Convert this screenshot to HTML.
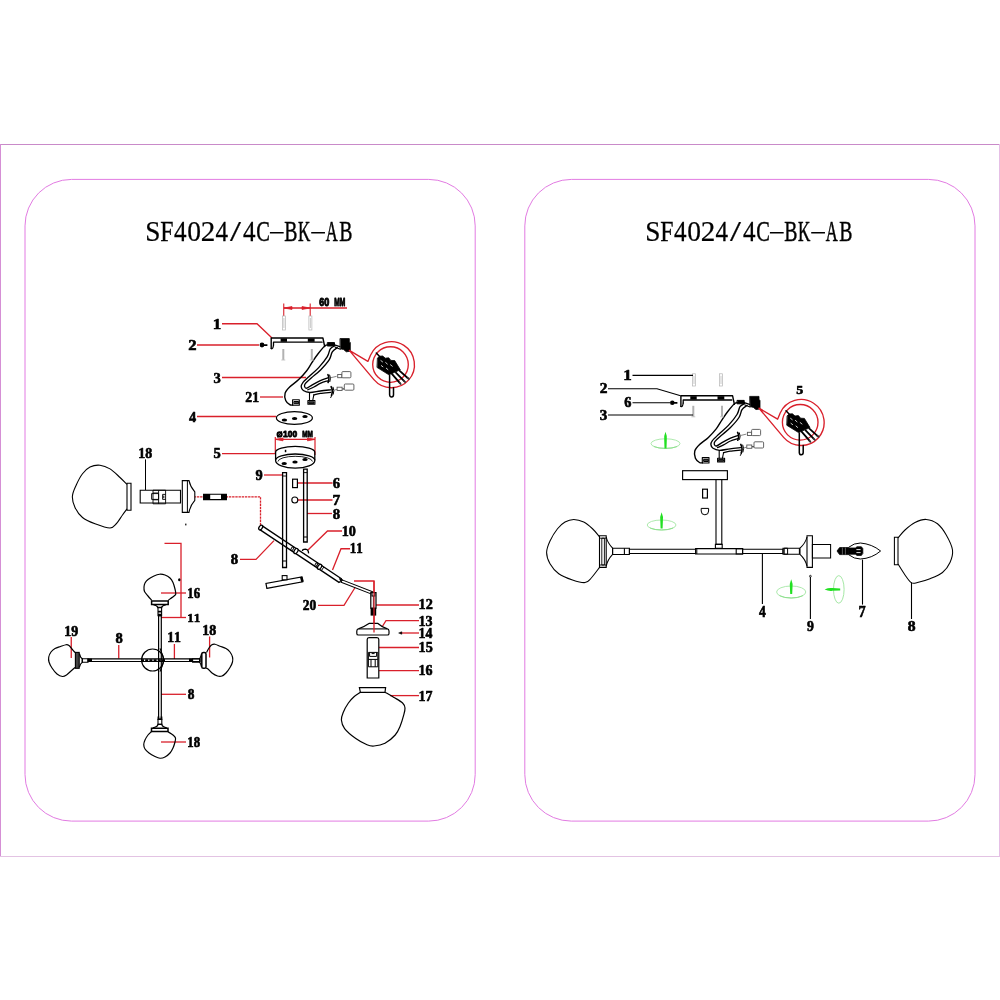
<!DOCTYPE html>
<html><head><meta charset="utf-8"><title>SF4024/4C-BK-AB</title>
<style>
html,body{margin:0;padding:0;background:#fff;}
body{width:1000px;height:1000px;overflow:hidden;font-family:"Liberation Sans",sans-serif;}
svg{display:block}
.t{font-family:"Liberation Serif",serif;fill:#000;stroke:#000;}
text{font-kerning:none;}
.n{font-family:"Liberation Serif",serif;font-weight:bold;fill:#000;stroke:#000;stroke-width:0.6px;stroke-linejoin:round;}
.d{font-family:"Liberation Sans",sans-serif;font-weight:bold;fill:#000;stroke:#000;stroke-width:0.9px;stroke-linejoin:round;}
</style></head><body>
<svg width="1000" height="1000" viewBox="0 0 1000 1000">
<rect width="1000" height="1000" fill="#fff"/>
<g fill="none" stroke-width="1">
<path d="M0 144.5H1000" stroke="#c98ac9"/>
<path d="M0.5 144V857" stroke="#d58fd5"/>
<path d="M0 856.5H1000" stroke="#e3c3e3"/>
<path d="M999.5 144V857" stroke="#e6bfe6"/>
<rect x="25" y="179.4" width="450.2" height="641.7" rx="46.5" ry="46.5" stroke="#e27be2"/>
<rect x="524.8" y="179.4" width="450.2" height="641.7" rx="46.5" ry="46.5" stroke="#e27be2"/>
</g>
<polyline points="222.00,323.75 257.00,323.75 272.00,338.00" fill="none" stroke="#d9202b" stroke-width="1.3" />
<polyline points="197.00,345.00 259.00,345.00" fill="none" stroke="#d9202b" stroke-width="1.3" />
<polyline points="222.00,377.50 306.00,377.50" fill="none" stroke="#d9202b" stroke-width="1.3" />
<polyline points="260.00,397.00 283.00,397.00" fill="none" stroke="#d9202b" stroke-width="1.3" />
<polyline points="197.00,416.50 276.00,416.50" fill="none" stroke="#d9202b" stroke-width="1.3" />
<polyline points="222.00,453.60 275.50,453.60" fill="none" stroke="#d9202b" stroke-width="1.3" />
<polyline points="264.00,475.00 282.50,475.00" fill="none" stroke="#d9202b" stroke-width="1.3" />
<polyline points="297.50,483.00 332.50,483.00" fill="none" stroke="#d9202b" stroke-width="1.3" />
<polyline points="298.00,500.00 332.50,500.00" fill="none" stroke="#d9202b" stroke-width="1.3" />
<polyline points="307.00,513.50 332.00,513.50" fill="none" stroke="#d9202b" stroke-width="1.3" />
<polyline points="308.00,550.00 327.50,531.00 342.00,531.00" fill="none" stroke="#d9202b" stroke-width="1.3" />
<polyline points="332.50,570.00 341.00,548.75 350.00,548.75" fill="none" stroke="#d9202b" stroke-width="1.3" />
<polyline points="240.00,559.40 256.00,559.40 274.00,540.60" fill="none" stroke="#d9202b" stroke-width="1.3" />
<polyline points="318.00,605.30 344.00,605.30 356.00,586.00" fill="none" stroke="#d9202b" stroke-width="1.3" />
<polyline points="354.00,581.00 374.00,581.00 374.00,632.50" fill="none" stroke="#d9202b" stroke-width="1.3" />
<polyline points="376.00,605.00 419.00,605.00" fill="none" stroke="#d9202b" stroke-width="1.3" />
<polyline points="382.00,627.00 386.00,620.60 419.00,620.60" fill="none" stroke="#d9202b" stroke-width="1.3" />
<polyline points="400.00,633.00 419.00,633.00" fill="none" stroke="#d9202b" stroke-width="1.3" />
<polyline points="379.00,647.50 419.00,647.50" fill="none" stroke="#d9202b" stroke-width="1.3" />
<polyline points="379.00,670.60 419.00,670.60" fill="none" stroke="#d9202b" stroke-width="1.3" />
<polyline points="390.00,695.60 419.00,695.60" fill="none" stroke="#d9202b" stroke-width="1.3" />
<polyline points="190.50,496.80 260.50,496.80 260.50,525.50" fill="none" stroke="#d9202b" stroke-width="1.3" stroke-dasharray="2.4 0.8"/>
<polyline points="164.50,543.30 181.00,543.30 181.00,617.50" fill="none" stroke="#d9202b" stroke-width="1.3" />
<polyline points="161.00,617.50 186.00,617.50" fill="none" stroke="#d9202b" stroke-width="1.3" />
<polyline points="161.00,593.00 186.00,593.00" fill="none" stroke="#d9202b" stroke-width="1.3" />
<polyline points="174.40,644.00 174.40,659.00" fill="none" stroke="#d9202b" stroke-width="1.3" />
<polyline points="209.60,636.50 209.60,657.50" fill="none" stroke="#d9202b" stroke-width="1.3" />
<polyline points="118.75,645.00 118.75,658.50" fill="none" stroke="#d9202b" stroke-width="1.3" />
<polyline points="71.25,637.00 71.25,658.00" fill="none" stroke="#d9202b" stroke-width="1.3" />
<polyline points="161.00,694.30 186.00,694.30" fill="none" stroke="#d9202b" stroke-width="1.3" />
<polyline points="161.00,742.00 186.00,742.00" fill="none" stroke="#d9202b" stroke-width="1.3" />
<polyline points="283.75,308.00 347.00,308.00" fill="none" stroke="#d9202b" stroke-width="1.3" />
<polyline points="283.75,303.50 283.75,316.00" fill="none" stroke="#d9202b" stroke-width="1.1" />
<polyline points="310.20,303.50 310.20,316.00" fill="none" stroke="#d9202b" stroke-width="1.1" />
<path d="M284 308L292 306.6V309.4Z M310 308L302 306.6V309.4Z" fill="#d9202b" stroke="#d9202b" stroke-width="0.8"/>
<polyline points="275.30,439.40 315.00,439.40" fill="none" stroke="#d9202b" stroke-width="1.3" />
<polyline points="275.30,437.00 275.30,454.00" fill="none" stroke="#d9202b" stroke-width="1.2" />
<polyline points="315.00,437.00 315.00,455.00" fill="none" stroke="#d9202b" stroke-width="1.2" />
<path d="M275.5 439.4L283 438V440.8Z M315 439.4L307.5 438V440.8Z" fill="#d9202b" stroke="#d9202b" stroke-width="0.8"/>
<circle cx="279.6" cy="434.4" r="2.1" fill="none" stroke="#000" stroke-width="2"/><path d="M277.4 437.4L281.8 431.4" stroke="#000" stroke-width="1.2"/>
<g><path d="M680.9 406.4V395.8H732.6L734.4 404.4" fill="none" stroke="#000" stroke-width="1.4" stroke-linejoin="round" stroke-linecap="round"/>
<path d="M683.2 403V400H731.8" fill="none" stroke="#000" stroke-width="1.3" stroke-linejoin="round" stroke-linecap="round"/>
<path d="M680.9 406.4Q682.6 407.4 683.2 403" fill="none" stroke="#000" stroke-width="1.2" stroke-linejoin="round" stroke-linecap="round"/>
<rect x="690.3" y="396.2" width="6.4" height="3.4" fill="#000"/><rect x="717.5" y="396.2" width="6.8" height="3.4" fill="#000"/>
<path d="M738.00 402.60 C737.40 402.80 736.13 402.27 734.40 403.80 C732.67 405.33 729.67 409.13 727.60 411.80 C725.53 414.47 723.87 417.00 722.00 419.80 C720.13 422.60 718.67 425.67 716.40 428.60 C714.13 431.53 711.20 434.73 708.40 437.40 C705.60 440.07 701.87 442.33 699.60 444.60 C697.33 446.87 695.50 448.73 694.80 451.00 C694.10 453.27 694.62 456.28 695.40 458.20 C696.18 460.12 698.32 461.73 699.50 462.50 C700.68 463.27 702.00 462.75 702.50 462.80" fill="none" stroke="#000" stroke-width="1.4" stroke-linejoin="round" stroke-linecap="round"/>
<path d="M702.3 457.6H709V463H702.3Z" fill="none" stroke="#000" stroke-width="1.1" stroke-linejoin="round" stroke-linecap="round"/>
<path d="M704 459.3H708.3V461.5H704Z" fill="#444" stroke="#000" stroke-width="1.0" stroke-linejoin="round" stroke-linecap="round"/>
<path d="M744.60 403.60 C743.83 404.10 741.27 404.78 740.00 406.60 C738.73 408.42 738.93 411.37 737.00 414.50 C735.07 417.63 731.43 422.12 728.40 425.40 C725.37 428.68 721.47 431.67 718.80 434.20 C716.13 436.73 713.72 438.87 712.40 440.60 C711.08 442.33 710.80 443.32 710.90 444.60 C711.00 445.88 711.55 447.35 713.00 448.30 C714.45 449.25 716.77 450.22 719.60 450.30 C722.43 450.38 726.52 449.25 730.00 448.80 C733.48 448.35 738.75 447.80 740.50 447.60" fill="none" stroke="#000" stroke-width="1.35" stroke-linejoin="round" stroke-linecap="round"/>
<path d="M747.00 405.40 C746.17 406.10 743.33 407.58 742.00 409.60 C740.67 411.62 740.92 414.52 739.00 417.50 C737.08 420.48 733.47 424.48 730.50 427.50 C727.53 430.52 723.78 433.28 721.20 435.60 C718.62 437.92 716.15 439.93 715.00 441.40 C713.85 442.87 714.05 443.63 714.30 444.40 C714.55 445.17 715.22 446.30 716.50 446.00 C717.78 445.70 719.75 443.87 722.00 442.60 C724.25 441.33 727.42 439.57 730.00 438.40 C732.58 437.23 736.25 436.07 737.50 435.60" fill="none" stroke="#000" stroke-width="1.35" stroke-linejoin="round" stroke-linecap="round"/>
<path d="M717.50 447.60 C718.52 447.13 721.43 445.90 723.60 444.80 C725.77 443.70 728.18 442.03 730.50 441.00 C732.82 439.97 736.33 439.00 737.50 438.60" fill="none" stroke="#000" stroke-width="1.3" stroke-linejoin="round" stroke-linecap="round"/>
<path d="M723.50 452.60 C724.58 452.37 727.17 451.60 730.00 451.20 C732.83 450.80 738.75 450.37 740.50 450.20" fill="none" stroke="#000" stroke-width="1.3" stroke-linejoin="round" stroke-linecap="round"/>
<path d="M719.2 450.5V458.3M723.6 452.5L722.4 458.3" fill="none" stroke="#000" stroke-width="1.1" stroke-linejoin="round" stroke-linecap="round"/>
<path d="M717.6 458.3H724.6V462H717.6Z" fill="none" stroke="#000" stroke-width="1.1" stroke-linejoin="round" stroke-linecap="round"/>
<path d="M718.8 459.6H723.6V461.2H718.8Z" fill="#444" stroke="#000" stroke-width="1.0" stroke-linejoin="round" stroke-linecap="round"/>
<path d="M737.6 432.4Q739.6 436 737.8 440.2" fill="none" stroke="#000" stroke-width="1.6" stroke-linejoin="round" stroke-linecap="round"/>
<path d="M739.4 432.8Q741 436 739.6 439.4" fill="none" stroke="#000" stroke-width="1.0" stroke-linejoin="round" stroke-linecap="round"/>
<path d="M741 435.4L746 434.2" fill="none" stroke="#666" stroke-width="0.8" stroke-linejoin="round" stroke-linecap="round"/>
<rect x="747.4" y="432.3" width="4.2" height="3.2" fill="#fff" stroke="#555" stroke-width="0.9"/>
<rect x="751.6" y="429.4" width="9" height="6.2" rx="1" fill="#fff" stroke="#555" stroke-width="0.9"/>
<path d="M740.8 444.4Q743 448.6 741.2 453" fill="none" stroke="#000" stroke-width="1.6" stroke-linejoin="round" stroke-linecap="round"/>
<path d="M742.8 445Q744.4 448.6 743 452" fill="none" stroke="#000" stroke-width="1.0" stroke-linejoin="round" stroke-linecap="round"/>
<path d="M741.6 453L740.4 455.4" fill="none" stroke="#000" stroke-width="1.0" stroke-linejoin="round" stroke-linecap="round"/>
<path d="M744.4 447.8L747 447" fill="none" stroke="#666" stroke-width="0.8" stroke-linejoin="round" stroke-linecap="round"/>
<rect x="746.8" y="445" width="5" height="3.3" fill="#fff" stroke="#555" stroke-width="0.9"/>
<rect x="752" y="446" width="2" height="1.4" fill="#555" stroke="none"/>
<rect x="754" y="441.8" width="9.6" height="6.2" rx="1" fill="#fff" stroke="#555" stroke-width="0.9"/>
<path d="M737.4 400.4H744.2V403.8H737.4Z" fill="#000" stroke="#000" stroke-width="1.0" stroke-linejoin="round" stroke-linecap="round"/>
<path d="M744.2 402.6L749.5 404.4" fill="none" stroke="#000" stroke-width="1.4" stroke-linejoin="round" stroke-linecap="round"/>
<path d="M745 405L750 407" fill="none" stroke="#000" stroke-width="1.2" stroke-linejoin="round" stroke-linecap="round"/>
<path d="M750 396.4H759V400.2H760V409L756 409.6L753.4 407.4L750.2 406.6Z" fill="#000" stroke="#000" stroke-width="0.8" stroke-linejoin="round" stroke-linecap="round"/>
<path d="M759 408.2L777.6 419.2L780.2 413A23 23 0 1 1 783.6 437.4Z" fill="none" stroke="#d9202b" stroke-width="1.35" stroke-linejoin="round" stroke-linecap="round"/>
<circle cx="800.2" cy="422.3" r="17.8" fill="none" stroke="#d9202b" stroke-width="1.35"/>
<path d="M787.4 415.6L789.4 414L792.4 413.8L795 416L798.4 415.6L800.6 418.2L804.4 418.4L810 427.6L798.6 432.6L787 425.4Z" fill="#000" stroke="#000" stroke-width="0.8" stroke-linejoin="round" stroke-linecap="round"/>
<path d="M790.6 418.4L792.2 419.6M795.4 420.4L797 421.8M800.2 422.6L802 424M791 423.4L792.6 424.6M796 426L797.6 427.4" fill="none" stroke="#fff" stroke-width="0.8" stroke-linejoin="round" stroke-linecap="round"/>
<path d="M801.6 431.6L809.4 440.6M805.6 430.4L813.6 438.6M809.4 428.6L817.4 435.8" fill="none" stroke="#000" stroke-width="1.8" stroke-linejoin="round" stroke-linecap="round"/>
<path d="M809.4 440.6L810.4 441.8M813.6 438.6L814.8 439.8M817.4 435.8L818.6 436.8" fill="none" stroke="#333" stroke-width="1.8" stroke-linejoin="round" stroke-linecap="round"/>
<path d="M786 410.8L790 415" fill="none" stroke="#000" stroke-width="1.5" stroke-linejoin="round" stroke-linecap="round"/>
<path d="M799.3 433V452.6Q799.5 454.8 801.3 454.8Q803.2 454.8 803.2 452.6V445.5" fill="none" stroke="#000" stroke-width="1.5" stroke-linejoin="round" stroke-linecap="round"/></g>
<g transform="translate(-409.7,-57.8)"><path d="M680.9 406.4V395.8H732.6L734.4 404.4" fill="none" stroke="#000" stroke-width="1.4" stroke-linejoin="round" stroke-linecap="round"/>
<path d="M683.2 403V400H731.8" fill="none" stroke="#000" stroke-width="1.3" stroke-linejoin="round" stroke-linecap="round"/>
<path d="M680.9 406.4Q682.6 407.4 683.2 403" fill="none" stroke="#000" stroke-width="1.2" stroke-linejoin="round" stroke-linecap="round"/>
<rect x="690.3" y="396.2" width="6.4" height="3.4" fill="#000"/><rect x="717.5" y="396.2" width="6.8" height="3.4" fill="#000"/>
<path d="M738.00 402.60 C737.40 402.80 736.13 402.27 734.40 403.80 C732.67 405.33 729.67 409.13 727.60 411.80 C725.53 414.47 723.87 417.00 722.00 419.80 C720.13 422.60 718.67 425.67 716.40 428.60 C714.13 431.53 711.20 434.73 708.40 437.40 C705.60 440.07 701.87 442.33 699.60 444.60 C697.33 446.87 695.50 448.73 694.80 451.00 C694.10 453.27 694.62 456.28 695.40 458.20 C696.18 460.12 698.32 461.73 699.50 462.50 C700.68 463.27 702.00 462.75 702.50 462.80" fill="none" stroke="#000" stroke-width="1.4" stroke-linejoin="round" stroke-linecap="round"/>
<path d="M702.3 457.6H709V463H702.3Z" fill="none" stroke="#000" stroke-width="1.1" stroke-linejoin="round" stroke-linecap="round"/>
<path d="M704 459.3H708.3V461.5H704Z" fill="#444" stroke="#000" stroke-width="1.0" stroke-linejoin="round" stroke-linecap="round"/>
<path d="M744.60 403.60 C743.83 404.10 741.27 404.78 740.00 406.60 C738.73 408.42 738.93 411.37 737.00 414.50 C735.07 417.63 731.43 422.12 728.40 425.40 C725.37 428.68 721.47 431.67 718.80 434.20 C716.13 436.73 713.72 438.87 712.40 440.60 C711.08 442.33 710.80 443.32 710.90 444.60 C711.00 445.88 711.55 447.35 713.00 448.30 C714.45 449.25 716.77 450.22 719.60 450.30 C722.43 450.38 726.52 449.25 730.00 448.80 C733.48 448.35 738.75 447.80 740.50 447.60" fill="none" stroke="#000" stroke-width="1.35" stroke-linejoin="round" stroke-linecap="round"/>
<path d="M747.00 405.40 C746.17 406.10 743.33 407.58 742.00 409.60 C740.67 411.62 740.92 414.52 739.00 417.50 C737.08 420.48 733.47 424.48 730.50 427.50 C727.53 430.52 723.78 433.28 721.20 435.60 C718.62 437.92 716.15 439.93 715.00 441.40 C713.85 442.87 714.05 443.63 714.30 444.40 C714.55 445.17 715.22 446.30 716.50 446.00 C717.78 445.70 719.75 443.87 722.00 442.60 C724.25 441.33 727.42 439.57 730.00 438.40 C732.58 437.23 736.25 436.07 737.50 435.60" fill="none" stroke="#000" stroke-width="1.35" stroke-linejoin="round" stroke-linecap="round"/>
<path d="M717.50 447.60 C718.52 447.13 721.43 445.90 723.60 444.80 C725.77 443.70 728.18 442.03 730.50 441.00 C732.82 439.97 736.33 439.00 737.50 438.60" fill="none" stroke="#000" stroke-width="1.3" stroke-linejoin="round" stroke-linecap="round"/>
<path d="M723.50 452.60 C724.58 452.37 727.17 451.60 730.00 451.20 C732.83 450.80 738.75 450.37 740.50 450.20" fill="none" stroke="#000" stroke-width="1.3" stroke-linejoin="round" stroke-linecap="round"/>
<path d="M719.2 450.5V458.3M723.6 452.5L722.4 458.3" fill="none" stroke="#000" stroke-width="1.1" stroke-linejoin="round" stroke-linecap="round"/>
<path d="M717.6 458.3H724.6V462H717.6Z" fill="none" stroke="#000" stroke-width="1.1" stroke-linejoin="round" stroke-linecap="round"/>
<path d="M718.8 459.6H723.6V461.2H718.8Z" fill="#444" stroke="#000" stroke-width="1.0" stroke-linejoin="round" stroke-linecap="round"/>
<path d="M737.6 432.4Q739.6 436 737.8 440.2" fill="none" stroke="#000" stroke-width="1.6" stroke-linejoin="round" stroke-linecap="round"/>
<path d="M739.4 432.8Q741 436 739.6 439.4" fill="none" stroke="#000" stroke-width="1.0" stroke-linejoin="round" stroke-linecap="round"/>
<path d="M741 435.4L746 434.2" fill="none" stroke="#666" stroke-width="0.8" stroke-linejoin="round" stroke-linecap="round"/>
<rect x="747.4" y="432.3" width="4.2" height="3.2" fill="#fff" stroke="#555" stroke-width="0.9"/>
<rect x="751.6" y="429.4" width="9" height="6.2" rx="1" fill="#fff" stroke="#555" stroke-width="0.9"/>
<path d="M740.8 444.4Q743 448.6 741.2 453" fill="none" stroke="#000" stroke-width="1.6" stroke-linejoin="round" stroke-linecap="round"/>
<path d="M742.8 445Q744.4 448.6 743 452" fill="none" stroke="#000" stroke-width="1.0" stroke-linejoin="round" stroke-linecap="round"/>
<path d="M741.6 453L740.4 455.4" fill="none" stroke="#000" stroke-width="1.0" stroke-linejoin="round" stroke-linecap="round"/>
<path d="M744.4 447.8L747 447" fill="none" stroke="#666" stroke-width="0.8" stroke-linejoin="round" stroke-linecap="round"/>
<rect x="746.8" y="445" width="5" height="3.3" fill="#fff" stroke="#555" stroke-width="0.9"/>
<rect x="752" y="446" width="2" height="1.4" fill="#555" stroke="none"/>
<rect x="754" y="441.8" width="9.6" height="6.2" rx="1" fill="#fff" stroke="#555" stroke-width="0.9"/>
<path d="M737.4 400.4H744.2V403.8H737.4Z" fill="#000" stroke="#000" stroke-width="1.0" stroke-linejoin="round" stroke-linecap="round"/>
<path d="M744.2 402.6L749.5 404.4" fill="none" stroke="#000" stroke-width="1.4" stroke-linejoin="round" stroke-linecap="round"/>
<path d="M745 405L750 407" fill="none" stroke="#000" stroke-width="1.2" stroke-linejoin="round" stroke-linecap="round"/>
<path d="M750 396.4H759V400.2H760V409L756 409.6L753.4 407.4L750.2 406.6Z" fill="#000" stroke="#000" stroke-width="0.8" stroke-linejoin="round" stroke-linecap="round"/>
<path d="M759 408.2L777.6 419.2L780.2 413A23 23 0 1 1 783.6 437.4Z" fill="none" stroke="#d9202b" stroke-width="1.35" stroke-linejoin="round" stroke-linecap="round"/>
<circle cx="800.2" cy="422.3" r="17.8" fill="none" stroke="#d9202b" stroke-width="1.35"/>
<path d="M787.4 415.6L789.4 414L792.4 413.8L795 416L798.4 415.6L800.6 418.2L804.4 418.4L810 427.6L798.6 432.6L787 425.4Z" fill="#000" stroke="#000" stroke-width="0.8" stroke-linejoin="round" stroke-linecap="round"/>
<path d="M790.6 418.4L792.2 419.6M795.4 420.4L797 421.8M800.2 422.6L802 424M791 423.4L792.6 424.6M796 426L797.6 427.4" fill="none" stroke="#fff" stroke-width="0.8" stroke-linejoin="round" stroke-linecap="round"/>
<path d="M801.6 431.6L809.4 440.6M805.6 430.4L813.6 438.6M809.4 428.6L817.4 435.8" fill="none" stroke="#000" stroke-width="1.8" stroke-linejoin="round" stroke-linecap="round"/>
<path d="M809.4 440.6L810.4 441.8M813.6 438.6L814.8 439.8M817.4 435.8L818.6 436.8" fill="none" stroke="#333" stroke-width="1.8" stroke-linejoin="round" stroke-linecap="round"/>
<path d="M786 410.8L790 415" fill="none" stroke="#000" stroke-width="1.5" stroke-linejoin="round" stroke-linecap="round"/>
<path d="M799.3 433V452.6Q799.5 454.8 801.3 454.8Q803.2 454.8 803.2 452.6V445.5" fill="none" stroke="#000" stroke-width="1.5" stroke-linejoin="round" stroke-linecap="round"/></g>
<rect x="692.50" y="373.80" width="3.00" height="12.20" rx="0" fill="none" stroke="#b4b4b4" stroke-width="0.7" />
<polyline points="694.00,375.80 694.00,384.00" fill="none" stroke="#b4b4b4" stroke-width="0.7" />
<rect x="719.50" y="373.80" width="3.00" height="12.20" rx="0" fill="none" stroke="#b4b4b4" stroke-width="0.7" />
<polyline points="721.00,375.80 721.00,384.00" fill="none" stroke="#b4b4b4" stroke-width="0.7" />
<polyline points="693.30,405.80 693.30,416.80" fill="none" stroke="#b2b2b2" stroke-width="2.0" />
<polyline points="691.30,416.80 695.30,416.80" fill="none" stroke="#c4c4c4" stroke-width="0.9" />
<polyline points="722.00,405.80 722.00,416.80" fill="none" stroke="#b2b2b2" stroke-width="2.0" />
<polyline points="720.00,416.80 724.00,416.80" fill="none" stroke="#c4c4c4" stroke-width="0.9" />
<rect x="282.40" y="316.00" width="3.00" height="14.00" rx="0" fill="none" stroke="#b4b4b4" stroke-width="0.7" />
<polyline points="283.90,318.00 283.90,328.00" fill="none" stroke="#b4b4b4" stroke-width="0.7" />
<rect x="308.90" y="316.00" width="3.00" height="14.00" rx="0" fill="none" stroke="#b4b4b4" stroke-width="0.7" />
<polyline points="310.40,318.00 310.40,328.00" fill="none" stroke="#b4b4b4" stroke-width="0.7" />
<polyline points="283.30,349.00 283.30,360.00" fill="none" stroke="#b2b2b2" stroke-width="2.0" />
<polyline points="281.30,360.00 285.30,360.00" fill="none" stroke="#c4c4c4" stroke-width="0.9" />
<polyline points="311.80,349.00 311.80,360.00" fill="none" stroke="#b2b2b2" stroke-width="2.0" />
<polyline points="309.80,360.00 313.80,360.00" fill="none" stroke="#c4c4c4" stroke-width="0.9" />
<path d="M259.6 345a2.4 2.4 0 1 1 4.8 0a2.4 2.4 0 1 1 -4.8 0M264 344.2H267.4V345.9H264Z" fill="#000"/>
<path d="M670 402.8a2.3 2.3 0 1 1 4.6 0a2.3 2.3 0 1 1 -4.6 0M674 402H677.4V403.7H674Z" fill="#000"/>
<ellipse cx="294.4" cy="418" rx="18" ry="6.3" fill="none" stroke="#000" stroke-width="1.2"/>
<ellipse cx="284.4" cy="420.0" rx="2.7" ry="1.5" fill="#000"/>
<ellipse cx="294.6" cy="418.4" rx="2.7" ry="1.5" fill="#000"/>
<ellipse cx="305.0" cy="416.5" rx="2.7" ry="1.5" fill="#000"/>
<path d="M275.6 452.2A19.6 5.8 0 0 1 314.8 452.2V460.6A19.6 7.6 0 0 1 275.6 460.6Z" fill="none" stroke="#000" stroke-width="1.3" />
<path d="M275.6 460.2A19.6 6.2 0 0 1 314.8 460.2" fill="none" stroke="#000" stroke-width="1.3" />
<path d="M278 461.5A17.2 5.2 0 0 1 312.4 461.5" fill="none" stroke="#000" stroke-width="0.9" />
<ellipse cx="284.2" cy="463.5" rx="2.7" ry="1.5" fill="#000"/>
<ellipse cx="295.0" cy="462.0" rx="2.7" ry="1.5" fill="#000"/>
<ellipse cx="305.0" cy="459.6" rx="2.7" ry="1.5" fill="#000"/>
<rect x="284.8" y="449.8" width="1.5" height="2.4" fill="#000"/>
<path d="M282.6 567.5V472.6H286.5V567.5Z" fill="none" stroke="#000" stroke-width="1.3" />
<path d="M282.6 476H286.5" fill="none" stroke="#000" stroke-width="0.9" />
<path d="M282.6 561H286.5" fill="none" stroke="#000" stroke-width="1.0" />
<path d="M303.6 542V469.2H307.2V542Z" fill="none" stroke="#000" stroke-width="1.3" />
<path d="M303.6 472.6H307.2" fill="none" stroke="#000" stroke-width="0.9" />
<path d="M303.6 537H307.2" fill="none" stroke="#000" stroke-width="1.0" />
<rect x="292.60" y="479.20" width="4.80" height="8.40" rx="0" fill="none" stroke="#000" stroke-width="1.2" />
<circle cx="294.8" cy="500" r="3" fill="none" stroke="#000" stroke-width="1.1"/>
<path d="M259.81 529.59 L339.36 582.61 M262.25 525.92 L341.80 578.95" fill="none" stroke="#000" stroke-width="1.35" />
<ellipse cx="260.70" cy="527.53" rx="1.60" ry="2.60" transform="rotate(33.7 260.70 527.53)" fill="none" stroke="#000" stroke-width="1.3"/>
<ellipse cx="292.32" cy="548.61" rx="1.00" ry="2.20" transform="rotate(33.7 292.32 548.61)" fill="none" stroke="#000" stroke-width="1.0"/>
<ellipse cx="295.98" cy="551.05" rx="1.70" ry="2.80" transform="rotate(33.7 295.98 551.05)" fill="#fff" stroke="#000" stroke-width="1.3"/>
<ellipse cx="319.61" cy="566.81" rx="1.70" ry="2.80" transform="rotate(33.7 319.61 566.81)" fill="#fff" stroke="#000" stroke-width="1.3"/>
<ellipse cx="316.28" cy="564.59" rx="1.00" ry="2.20" transform="rotate(33.7 316.28 564.59)" fill="none" stroke="#000" stroke-width="1.0"/>
<path d="M321.38 570.63 L323.82 566.97" fill="none" stroke="#000" stroke-width="1.0" />
<path d="M339.36 582.61 L341.80 578.95" fill="none" stroke="#000" stroke-width="1.2" />
<path d="M302.4 551Q302.6 549.2 305.4 549.2Q308.4 549.4 308.6 553.4" fill="#fff" stroke="#000" stroke-width="1.3" />
<path d="M341.14 582.16 L371.74 594.16 L372.66 591.84 L342.06 579.84Z" fill="#fff" stroke="#000" stroke-width="1.1" />
<path d="M339.2 578.6L342.8 580.4" fill="none" stroke="#000" stroke-width="1.3" />
<path d="M266.85 588.36 L302.65 581.76 L301.75 576.84 L265.95 583.44Z" fill="#fff" stroke="#000" stroke-width="1.2" />
<rect x="282.20" y="575.60" width="4.80" height="4.20" rx="0" fill="#fff" stroke="#000" stroke-width="1.1" />
<path d="M301.2 576.9L302.6 581.9" fill="none" stroke="#000" stroke-width="2.6" />
<path d="M370.8 592.6H376V608.2H370.8Z" fill="#fff" stroke="#000" stroke-width="1.2" />
<rect x="372" y="592.6" width="2.8" height="3.4" fill="#fff" stroke="#000" stroke-width="1.1"/>
<rect x="370.6" y="608" width="5.6" height="7.6" fill="#000"/>
<path d="M373.4 596V608" fill="none" stroke="#000" stroke-width="0.8" />
<path d="M369.4 623.3H377.6Q381 626.5 386.8 628.6Q389 629 389 631V633.4Q389 635 387.4 635H358.4Q356.8 635 356.8 633.4V631Q356.8 629 359 628.6Q364.8 626.5 369.4 623.3Z" fill="#fff" stroke="#000" stroke-width="1.2" />
<path d="M358.6 628.9H387.2" fill="none" stroke="#000" stroke-width="1.1" />
<path d="M398.6 633L401.8 631.7V634.3Z" fill="#000" stroke="#000" stroke-width="0.5"/>
<polyline points="374.00,581.00 374.00,632.50" fill="none" stroke="#d9202b" stroke-width="1.3" />
<path d="M367.2 678V639.5Q367.2 637.6 369 637.6H377Q378.8 637.6 378.8 639.5V678Z" fill="#fff" stroke="#000" stroke-width="1.2" />
<path d="M368.4 652.4H377.8V666.8H368.4Z M369.6 652.4V656.4H376.6V652.4 M368.4 659.4H377.8 M371 659.4V666.8 M375.2 659.4V666.8 M371.6 653.6H374.6" fill="none" stroke="#000" stroke-width="1.0" />
<path d="M360.60 692.20 C359.50 692.97 356.03 695.00 354.00 696.80 C351.97 698.60 350.20 700.40 348.40 703.00 C346.60 705.60 344.37 709.57 343.20 712.40 C342.03 715.23 341.17 717.30 341.40 720.00 C341.63 722.70 342.20 725.50 344.60 728.60 C347.00 731.70 352.07 735.90 355.80 738.60 C359.53 741.30 363.97 743.57 367.00 744.80 C370.03 746.03 371.00 746.27 374.00 746.00 C377.00 745.73 381.47 745.03 385.00 743.20 C388.53 741.37 392.67 737.87 395.20 735.00 C397.73 732.13 398.80 729.27 400.20 726.00 C401.60 722.73 402.80 718.40 403.60 715.40 C404.40 712.40 405.17 710.07 405.00 708.00 C404.83 705.93 404.43 704.77 402.60 703.00 C400.77 701.23 396.90 699.20 394.00 697.40 C391.10 695.60 386.67 693.07 385.20 692.20" fill="none" stroke="#000" stroke-width="1.2" />
<path d="M359.4 687.6H385.6L385 692.3H360.4Z" fill="none" stroke="#000" stroke-width="1.2" />
<polyline points="145.50,459.40 145.50,490.00" fill="none" stroke="#000" stroke-width="1.0" />
<path d="M127.00 484.40 C125.83 483.25 122.83 480.08 120.00 477.50 C117.17 474.92 113.33 470.95 110.00 468.90 C106.67 466.85 103.33 465.52 100.00 465.20 C96.67 464.88 92.92 465.57 90.00 467.00 C87.08 468.43 84.79 470.75 82.50 473.75 C80.21 476.75 77.93 481.25 76.25 485.00 C74.57 488.75 72.61 492.50 72.40 496.25 C72.19 500.00 73.32 503.96 75.00 507.50 C76.68 511.04 79.17 514.79 82.50 517.50 C85.83 520.21 90.42 522.00 95.00 523.75 C99.58 525.50 106.46 528.00 110.00 528.00 C113.54 528.00 114.17 525.92 116.25 523.75 C118.33 521.58 120.71 517.48 122.50 515.00 C124.29 512.52 126.25 509.92 127.00 508.90" fill="none" stroke="#000" stroke-width="1.1" />
<path d="M127 483.2H131V510.2H127Z" fill="none" stroke="#000" stroke-width="1.1" />
<path d="M140.2 490.2H180.5V503H140.2Z" fill="none" stroke="#000" stroke-width="1.1" />
<path d="M153 490.2H165.6V503.8H153Z M158.6 490.2V503.8 M153 493H158.6 M153 499.8H158.6 M162.6 494.4H165.6 M162.6 499.4H165.6 M162.6 494.4V499.4" fill="none" stroke="#000" stroke-width="0.9" />
<path d="M151.6 493.6H158.6V499.4H151.6Z" fill="none" stroke="#000" stroke-width="0.9" />
<rect x="163.3" y="495.6" width="1" height="2.6" fill="#000"/>
<path d="M182.3 480.6H189Q190.2 486.6 194.8 491.8V500.4Q190.2 505.6 189 512.4H182.3Z" fill="#fff" stroke="#000" stroke-width="1.1" />
<path d="M187.4 480.6V512.4" fill="none" stroke="#000" stroke-width="1.0" />
<path d="M203.6 494.2H226.4V499.6H203.6Z" fill="#fff" stroke="#000" stroke-width="1.1" />
<rect x="203.4" y="494" width="6.8" height="5.8" fill="#000"/><rect x="221" y="494" width="5.6" height="5.8" fill="#000"/>
<rect x="185.2" y="523.6" width="1.2" height="1.8" fill="#000"/>
<path d="M158.6 615.6V719H161.3V615.6Z" fill="none" stroke="#000" stroke-width="1.2" />
<path d="M88 658.8H200V661.5H88Z" fill="none" stroke="#000" stroke-width="1.2" />
<circle cx="152.6" cy="660" r="11" fill="none" stroke="#000" stroke-width="1.2"/>
<path d="M141 660.1H165" fill="none" stroke="#000" stroke-width="1.7" stroke-dasharray="3 1.2"/>
<path d="M160 648.4Q162.8 655 164 660Q162.8 665 160 671.6" fill="none" stroke="#000" stroke-width="1.1" />
<path d="M151.75 600.40 C151.22 599.78 149.01 597.25 148.00 596.00 C146.99 594.75 145.06 592.76 144.50 591.50 C143.94 590.24 143.93 588.19 144.00 587.00 C144.07 585.81 144.44 584.05 145.00 583.00 C145.56 581.95 146.74 580.48 148.00 579.50 C149.26 578.52 152.39 576.74 154.00 576.00 C155.61 575.26 157.96 574.39 159.50 574.25 C161.04 574.11 163.53 574.48 165.00 575.00 C166.47 575.52 168.88 576.95 170.00 578.00 C171.12 579.05 172.30 580.96 173.00 582.50 C173.70 584.04 174.62 587.46 175.00 589.00 C175.38 590.54 175.75 592.63 175.75 593.50 C175.75 594.37 176.09 594.23 175.00 595.20 C173.91 596.17 168.98 599.67 168.00 600.40" fill="none" stroke="#000" stroke-width="1.2" />
<path d="M151.6 601H168.2V604.4H151.6Z" fill="none" stroke="#000" stroke-width="1.5" />
<path d="M153.4 604.6Q157.4 605.6 157.8 607.6H161.6Q162 605.6 166 604.6" fill="none" stroke="#000" stroke-width="1.2" />
<path d="M158 607.4H161.6V615.6H158Z" fill="none" stroke="#000" stroke-width="1.1" />
<path d="M158 611.6H161.6M158 614.6H161.6" fill="none" stroke="#000" stroke-width="1.6" />
<path d="M151.50 731.50 C151.01 731.99 148.91 733.81 148.00 735.00 C147.09 736.19 145.59 738.67 145.00 740.00 C144.41 741.33 143.75 743.24 143.75 744.50 C143.75 745.76 144.26 747.81 145.00 749.00 C145.74 750.19 147.60 751.95 149.00 753.00 C150.40 754.05 153.46 755.76 155.00 756.50 C156.54 757.24 158.60 758.18 160.00 758.25 C161.40 758.32 163.60 757.74 165.00 757.00 C166.40 756.26 168.88 754.26 170.00 753.00 C171.12 751.74 172.30 749.54 173.00 748.00 C173.70 746.46 174.65 743.40 175.00 742.00 C175.35 740.60 175.78 738.98 175.50 738.00 C175.22 737.02 174.05 735.87 173.00 735.00 C171.95 734.13 168.70 732.25 168.00 731.80" fill="none" stroke="#000" stroke-width="1.2" />
<path d="M151.5 728.2H168V731.4H151.5Z" fill="none" stroke="#000" stroke-width="1.5" />
<path d="M152.8 727.8Q157.6 727 158 724.4H161.8Q162.2 727 166.8 727.8" fill="none" stroke="#000" stroke-width="1.2" />
<path d="M158 719.4H161.8V724.4H158Z" fill="none" stroke="#000" stroke-width="1.1" />
<path d="M158.4 716.5V720M161.5 716.5V720" fill="none" stroke="#000" stroke-width="1.7" />
<path d="M75.00 652.50 C74.58 652.01 72.84 649.98 72.00 649.00 C71.16 648.02 69.84 646.10 69.00 645.50 C68.16 644.90 67.19 644.61 66.00 644.75 C64.81 644.89 62.04 645.98 60.50 646.50 C58.96 647.02 56.33 647.73 55.00 648.50 C53.67 649.27 51.88 650.81 51.00 652.00 C50.12 653.19 49.03 655.60 48.75 657.00 C48.47 658.40 48.55 660.46 49.00 662.00 C49.45 663.54 50.88 666.32 52.00 668.00 C53.12 669.68 55.53 672.81 57.00 674.00 C58.47 675.19 61.17 676.36 62.50 676.50 C63.83 676.64 65.31 675.77 66.50 675.00 C67.69 674.23 69.81 672.05 71.00 671.00 C72.19 669.95 74.44 667.99 75.00 667.50" fill="none" stroke="#000" stroke-width="1.2" />
<rect x="75.4" y="652.4" width="3.8" height="15.9" fill="#444" stroke="#000" stroke-width="1.1"/>
<path d="M79.4 653.6Q80.4 657.8 82.4 658.8V662.2Q80.4 663.2 79.4 667.2" fill="none" stroke="#000" stroke-width="1.2" />
<path d="M82.2 658.7H88V662.3H82.2Z" fill="none" stroke="#000" stroke-width="1.1" />
<path d="M88 660.1H92" fill="none" stroke="#000" stroke-width="3.0" />
<path d="M206.50 652.50 C206.85 651.87 208.30 649.05 209.00 648.00 C209.70 646.95 210.66 645.52 211.50 645.00 C212.34 644.48 213.81 644.08 215.00 644.25 C216.19 644.42 218.46 645.65 220.00 646.25 C221.54 646.85 224.60 647.70 226.00 648.50 C227.40 649.30 229.09 650.81 230.00 652.00 C230.91 653.19 232.15 655.60 232.50 657.00 C232.85 658.40 232.85 660.53 232.50 662.00 C232.15 663.47 230.91 665.96 230.00 667.50 C229.09 669.04 227.12 671.81 226.00 673.00 C224.88 674.19 223.19 675.58 222.00 676.00 C220.81 676.42 218.90 676.42 217.50 676.00 C216.10 675.58 213.33 673.98 212.00 673.00 C210.67 672.02 208.84 669.70 208.00 669.00 C207.16 668.30 206.28 668.14 206.00 668.00" fill="none" stroke="#000" stroke-width="1.2" />
<rect x="201.8" y="652.4" width="4.2" height="15.9" rx="1.6" fill="#fff" stroke="#000" stroke-width="1.5"/>
<path d="M201.6 653.6Q200.6 657.8 199.6 658.8V662.2Q200.6 663.2 201.6 667.2" fill="none" stroke="#000" stroke-width="1.2" />
<path d="M192.6 658.7H199.8V662.3H192.6Z" fill="none" stroke="#000" stroke-width="1.1" />
<path d="M189 660.1H192.6" fill="none" stroke="#000" stroke-width="3.0" />
<ellipse cx="179.3" cy="579.8" rx="1.2" ry="1.5" fill="#000"/>
<polyline points="632.50,375.40 693.00,375.40" fill="none" stroke="#000" stroke-width="1.1" />
<polyline points="608.00,388.75 657.00,388.75 680.60,395.80" fill="none" stroke="#000" stroke-width="1.1" />
<polyline points="632.50,402.80 670.00,402.80" fill="none" stroke="#000" stroke-width="1.1" />
<polyline points="608.00,415.00 693.00,415.00" fill="none" stroke="#000" stroke-width="1.1" />
<polyline points="762.40,553.40 762.40,604.00" fill="none" stroke="#000" stroke-width="1.1" />
<polyline points="810.40,577.00 810.40,619.00" fill="none" stroke="#000" stroke-width="1.1" />
<circle cx="810.4" cy="576.2" r="0.9" fill="none" stroke="#000" stroke-width="0.8"/>
<polyline points="862.50,559.60 862.50,604.60" fill="none" stroke="#000" stroke-width="1.1" />
<polyline points="911.50,582.40 911.50,619.00" fill="none" stroke="#000" stroke-width="1.1" />
<rect x="682.60" y="470.70" width="44.80" height="8.90" rx="0" fill="none" stroke="#000" stroke-width="1.15" />
<path d="M716 479.6V544.4H721.8V479.6" fill="none" stroke="#000" stroke-width="1.1" />
<path d="M715.4 544.4H722.2V548.4H715.4Z" fill="none" stroke="#000" stroke-width="1.1" />
<rect x="702.60" y="489.20" width="4.80" height="8.80" rx="0" fill="none" stroke="#000" stroke-width="1.2" />
<path d="M701.2 508.4H708.6V511Q708.6 514.8 704.9 514.8Q701.2 514.8 701.2 511Z" fill="none" stroke="#000" stroke-width="1.0" />
<path d="M629.4 549.2H783V553.4H629.4Z" fill="none" stroke="#000" stroke-width="1.05" />
<path d="M695.6 548.6H742.6V554H695.6Z" fill="#fff" stroke="#000" stroke-width="1.1" />
<path d="M696.8 548.6V554" fill="none" stroke="#000" stroke-width="1.0" />
<path d="M736.2 548.6H742.6V554H736.2Z" fill="none" stroke="#000" stroke-width="1.1" />
<path d="M612.6 548.2H629.4V554.4H612.6Z" fill="none" stroke="#000" stroke-width="1.05" />
<path d="M624.4 548.2V554.4" fill="none" stroke="#000" stroke-width="1.1" />
<path d="M599.5 535.8H606.2V567.4H599.5Z" fill="none" stroke="#000" stroke-width="1.1" />
<path d="M601.8 538.2H604.4V565H601.8Z" fill="none" stroke="#000" stroke-width="0.9" />
<path d="M599.5 538.2H606.2M599.5 565H606.2" fill="none" stroke="#000" stroke-width="0.9" />
<path d="M606.2 537Q607.4 542.6 612.6 548.2V554.4Q607.4 560 606.2 566.2" fill="none" stroke="#000" stroke-width="1.05" />
<path d="M599.40 536.60 C598.25 535.29 595.11 531.18 592.50 528.75 C589.89 526.32 586.88 523.56 583.75 522.00 C580.62 520.44 576.88 519.40 573.75 519.40 C570.62 519.40 567.71 520.44 565.00 522.00 C562.29 523.56 560.00 525.58 557.50 528.75 C555.00 531.92 551.82 537.04 550.00 541.00 C548.18 544.96 546.60 548.71 546.60 552.50 C546.60 556.29 547.98 560.21 550.00 563.75 C552.02 567.29 555.00 571.04 558.75 573.75 C562.50 576.46 568.12 578.52 572.50 580.00 C576.88 581.48 581.88 582.93 585.00 582.60 C588.12 582.27 588.85 580.50 591.25 578.00 C593.65 575.50 598.04 569.33 599.40 567.60" fill="none" stroke="#000" stroke-width="1.05" />
<path d="M783 548.2H799.4V554.2H783Z" fill="none" stroke="#000" stroke-width="1.05" />
<path d="M784.2 548.2H787.6V554.2H784.2Z" fill="none" stroke="#000" stroke-width="1.0" />
<path d="M807 535.8H812.4V567.4H807Z" fill="none" stroke="#000" stroke-width="1.1" />
<path d="M807 537Q805.6 543 800 548.2V554.4Q805.6 559.6 807 566.2" fill="none" stroke="#000" stroke-width="1.05" />
<path d="M812.4 544.4H830.6V558H812.4Z" fill="none" stroke="#000" stroke-width="1.05" />
<path d="M848.8 547.2Q854 543 860.4 543Q872 544 880.6 551Q872 558.4 860.4 559Q854 559 848.8 554.8" fill="none" stroke="#000" stroke-width="1.0" />
<path d="M837 551L839.6 547.6H848.8V554.6H839.6Z" fill="#000" stroke="#000" stroke-width="0.8" />
<path d="M848.8 548H855.4L857 546.8H861.4Q863.6 548.4 862.8 551Q863.6 553.8 861.4 555.4H857L855.4 554.2H848.8Z" fill="#000" stroke="#000" stroke-width="0.8" />
<path d="M856.4 549.6H860.6M856.4 552.6H860.6" fill="none" stroke="#fff" stroke-width="0.9" />
<path d="M842.4 547.6V554.6M845.4 547.6V554.6" fill="none" stroke="#999" stroke-width="0.6" />
<path d="M894.4 537.2H898V564.8H894.4Z" fill="none" stroke="#000" stroke-width="1.05" />
<path d="M898.00 538.00 C899.17 536.67 902.17 532.58 905.00 530.00 C907.83 527.42 911.46 524.27 915.00 522.50 C918.54 520.73 922.50 519.19 926.25 519.40 C930.00 519.61 934.17 521.15 937.50 523.75 C940.83 526.35 943.75 530.62 946.25 535.00 C948.75 539.38 951.88 545.42 952.50 550.00 C953.12 554.58 951.67 558.75 950.00 562.50 C948.33 566.25 945.83 569.79 942.50 572.50 C939.17 575.21 934.17 577.08 930.00 578.75 C925.83 580.42 920.62 581.86 917.50 582.50 C914.38 583.14 913.33 583.85 911.25 582.60 C909.17 581.35 907.21 578.10 905.00 575.00 C902.79 571.90 899.17 565.83 898.00 564.00" fill="none" stroke="#000" stroke-width="1.05" />
<ellipse cx="665.5" cy="443.6" rx="14.5" ry="4.8" fill="none" stroke="#aeeaae" stroke-width="1"/>
<path d="M653.9 446.5A14.5 4.8 0 0 0 677.1 446.5" fill="none" stroke="#8fe08f" stroke-width="1"/>
<path d="M665.50 431.80Q667.40 436.30 666.80 439.80L666.50 448.40H664.50L664.20 439.80Q663.60 436.30 665.50 431.80Z" fill="#22e022"/>
<ellipse cx="661.6" cy="525.0" rx="14.4" ry="5.0" fill="none" stroke="#aeeaae" stroke-width="1"/>
<path d="M650.1 528.0A14.4 5.0 0 0 0 673.1 528.0" fill="none" stroke="#8fe08f" stroke-width="1"/>
<path d="M661.60 512.30Q663.50 516.80 662.90 520.30L662.60 528.60H660.60L660.30 520.30Q659.70 516.80 661.60 512.30Z" fill="#22e022"/>
<ellipse cx="791.2" cy="592.0" rx="14.6" ry="6.0" fill="none" stroke="#aeeaae" stroke-width="1"/>
<path d="M779.5 595.6A14.6 6.0 0 0 0 802.9 595.6" fill="none" stroke="#8fe08f" stroke-width="1"/>
<path d="M791.20 579.20Q793.10 583.70 792.50 587.20L792.20 594.00H790.20L789.90 587.20Q789.30 583.70 791.20 579.20Z" fill="#22e022"/>
<ellipse cx="838.8" cy="589.4" rx="5.3" ry="13.8" fill="none" stroke="#a6e8a6" stroke-width="1"/>
<path d="M824.6 589.4Q829 587.4 832.4 588.1L840.2 588.4V590.4L832.4 590.7Q829 591.4 824.6 589.4Z" fill="#22e022"/>
<filter id="ga" x="0" y="0" width="1000" height="1000" filterUnits="userSpaceOnUse"><feOffset dx="0" dy="0"/></filter>
<g filter="url(#ga)">
<text class="t" transform="matrix(0.9364 0 0 1 145.22 240.60)" font-size="29.16" stroke-width="0.25">S</text>
<text class="t" transform="matrix(0.8145 0 0 1 160.13 240.60)" font-size="29.16" stroke-width="0.29">F</text>
<text class="t" transform="matrix(0.8607 0 0 1 174.09 240.60)" font-size="29.16" stroke-width="0.25">4</text>
<text class="t" transform="matrix(0.9440 0 0 1 187.30 240.60)" font-size="29.16" stroke-width="0.25">0</text>
<text class="t" transform="matrix(0.9980 0 0 1 200.84 240.60)" font-size="29.16" stroke-width="0.25">2</text>
<text class="t" transform="matrix(0.8607 0 0 1 215.39 240.60)" font-size="29.16" stroke-width="0.25">4</text>
<text class="t" transform="matrix(1.3536 0 0 1 230.00 240.60)" font-size="29.16" stroke-width="0.25">/</text>
<text class="t" transform="matrix(0.8607 0 0 1 242.93 240.60)" font-size="29.16" stroke-width="0.25">4</text>
<text class="t" transform="matrix(0.7009 0 0 1 256.35 240.60)" font-size="29.16" stroke-width="0.41">C</text>
<rect x="269.90" y="232.00" width="13.77" height="1.5" fill="#000"/>
<text class="t" transform="matrix(0.6789 0 0 1 284.15 240.60)" font-size="29.16" stroke-width="0.44">B</text>
<text class="t" transform="matrix(0.5857 0 0 1 297.99 240.60)" font-size="29.16" stroke-width="0.54">K</text>
<rect x="311.20" y="232.00" width="13.77" height="1.5" fill="#000"/>
<text class="t" transform="matrix(0.5674 0 0 1 325.86 240.60)" font-size="29.16" stroke-width="0.56">A</text>
<text class="t" transform="matrix(0.6789 0 0 1 339.21 240.60)" font-size="29.16" stroke-width="0.44">B</text>
<text class="t" transform="matrix(0.9364 0 0 1 645.22 240.60)" font-size="29.16" stroke-width="0.25">S</text>
<text class="t" transform="matrix(0.8145 0 0 1 660.13 240.60)" font-size="29.16" stroke-width="0.29">F</text>
<text class="t" transform="matrix(0.8607 0 0 1 674.09 240.60)" font-size="29.16" stroke-width="0.25">4</text>
<text class="t" transform="matrix(0.9440 0 0 1 687.30 240.60)" font-size="29.16" stroke-width="0.25">0</text>
<text class="t" transform="matrix(0.9980 0 0 1 700.84 240.60)" font-size="29.16" stroke-width="0.25">2</text>
<text class="t" transform="matrix(0.8607 0 0 1 715.39 240.60)" font-size="29.16" stroke-width="0.25">4</text>
<text class="t" transform="matrix(1.3536 0 0 1 730.00 240.60)" font-size="29.16" stroke-width="0.25">/</text>
<text class="t" transform="matrix(0.8607 0 0 1 742.93 240.60)" font-size="29.16" stroke-width="0.25">4</text>
<text class="t" transform="matrix(0.7009 0 0 1 756.35 240.60)" font-size="29.16" stroke-width="0.41">C</text>
<rect x="769.90" y="232.00" width="13.77" height="1.5" fill="#000"/>
<text class="t" transform="matrix(0.6789 0 0 1 784.15 240.60)" font-size="29.16" stroke-width="0.44">B</text>
<text class="t" transform="matrix(0.5857 0 0 1 797.99 240.60)" font-size="29.16" stroke-width="0.54">K</text>
<rect x="811.20" y="232.00" width="13.77" height="1.5" fill="#000"/>
<text class="t" transform="matrix(0.5674 0 0 1 825.86 240.60)" font-size="29.16" stroke-width="0.56">A</text>
<text class="t" transform="matrix(0.6789 0 0 1 839.21 240.60)" font-size="29.16" stroke-width="0.44">B</text>
<text class="n" transform="matrix(1.1151 0 0 1 212.69 329.10)" font-size="15.22" >1</text>
<text class="n" transform="matrix(1.1008 0 0 1 188.35 350.30)" font-size="15.10" >2</text>
<text class="n" transform="matrix(0.9905 0 0 1 213.50 382.56)" font-size="14.73" >3</text>
<text class="n" transform="matrix(0.9034 0 0 1 245.32 401.70)" font-size="15.33" >21</text>
<text class="n" transform="matrix(0.9243 0 0 1 189.00 422.00)" font-size="15.50" >4</text>
<text class="n" transform="matrix(1.0270 0 0 1 213.47 458.31)" font-size="14.14" >5</text>
<text class="n" transform="matrix(1.0316 0 0 1 255.51 480.16)" font-size="13.99" >9</text>
<text class="n" transform="matrix(0.9950 0 0 1 332.80 487.56)" font-size="14.73" >6</text>
<text class="n" transform="matrix(1.0654 0 0 1 332.43 504.70)" font-size="14.36" >7</text>
<text class="n" transform="matrix(0.9911 0 0 1 332.81 518.95)" font-size="14.89" >8</text>
<text class="n" transform="matrix(1.0176 0 0 1 341.66 535.56)" font-size="13.93" >10</text>
<text class="n" transform="matrix(0.9141 0 0 1 349.86 553.45)" font-size="14.24" >11</text>
<text class="n" transform="matrix(1.0596 0 0 1 230.81 563.96)" font-size="13.93" >8</text>
<text class="n" transform="matrix(0.9677 0 0 1 302.73 610.16)" font-size="13.93" >20</text>
<text class="n" transform="matrix(1.0040 0 0 1 418.56 609.10)" font-size="14.20" >12</text>
<text class="n" transform="matrix(1.0087 0 0 1 418.57 625.56)" font-size="13.99" >13</text>
<text class="n" transform="matrix(0.9739 0 0 1 418.59 638.45)" font-size="14.24" >14</text>
<text class="n" transform="matrix(1.0086 0 0 1 418.57 652.06)" font-size="14.03" >15</text>
<text class="n" transform="matrix(1.0032 0 0 1 418.58 675.16)" font-size="13.99" >16</text>
<text class="n" transform="matrix(0.9803 0 0 1 418.58 700.70)" font-size="14.24" >17</text>
<text class="n" transform="matrix(0.9074 0 0 1 138.18 457.55)" font-size="15.41" >18</text>
<text class="n" transform="matrix(0.9149 0 0 1 187.28 597.56)" font-size="13.99" >16</text>
<text class="n" transform="matrix(0.9740 0 0 1 187.25 622.20)" font-size="13.48" >11</text>
<text class="n" transform="matrix(1.0028 0 0 1 64.18 635.56)" font-size="13.99" >19</text>
<text class="n" transform="matrix(1.0431 0 0 1 115.42 643.31)" font-size="13.93" >8</text>
<text class="n" transform="matrix(0.9707 0 0 1 167.19 642.20)" font-size="14.24" >11</text>
<text class="n" transform="matrix(1.0039 0 0 1 202.18 635.16)" font-size="13.93" >18</text>
<text class="n" transform="matrix(0.9603 0 0 1 187.86 698.96)" font-size="13.93" >8</text>
<text class="n" transform="matrix(0.9229 0 0 1 187.27 746.56)" font-size="13.93" >18</text>
<text class="n" transform="matrix(1.1922 0 0 1 623.34 380.30)" font-size="14.24" >1</text>
<text class="n" transform="matrix(1.0862 0 0 1 599.65 393.45)" font-size="14.20" >2</text>
<text class="n" transform="matrix(1.0234 0 0 1 624.21 407.06)" font-size="13.99" >6</text>
<text class="n" transform="matrix(1.0682 0 0 1 599.74 420.16)" font-size="13.99" >3</text>
<text class="n" transform="matrix(1.0406 0 0 1 796.24 393.57)" font-size="13.39" >5</text>
<text class="n" transform="matrix(0.8659 0 0 1 759.11 616.70)" font-size="15.80" >4</text>
<text class="n" transform="matrix(0.9235 0 0 1 806.92 631.15)" font-size="14.88" >9</text>
<text class="n" transform="matrix(0.9027 0 0 1 858.48 616.70)" font-size="15.88" >7</text>
<text class="n" transform="matrix(1.0583 0 0 1 907.78 631.16)" font-size="14.82" >8</text>
<text class="d" transform="matrix(0.8692 0 0 1 319.27 306.30)" font-size="10.45" >60</text>
<text class="d" transform="matrix(0.6189 0 0 1 334.15 306.40)" font-size="10.76" >MM</text>
<text class="d" transform="matrix(0.8916 0 0 1 283.07 437.31)" font-size="9.46" >100</text>
<text class="d" transform="matrix(0.6568 0 0 1 302.17 437.40)" font-size="9.74" >MM</text>
</g>
</svg>
</body></html>
